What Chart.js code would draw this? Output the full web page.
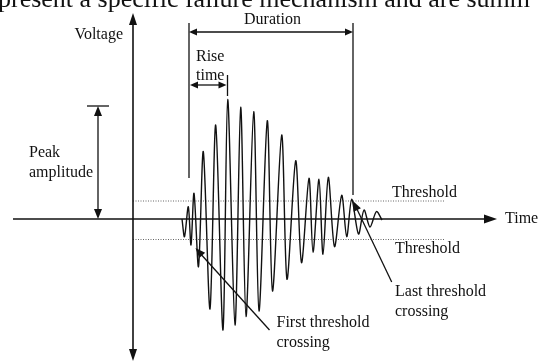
<!DOCTYPE html>
<html lang="en">
<head>
<meta charset="UTF-8">
<title>Acoustic emission hit parameters</title>
<script src="https://cdn.jsdelivr.net/npm/chart.js"></script>
<style>
  body { margin: 0; background: #fff; }
  #wrap { width: 539px; height: 363px; }
</style>
</head>
<body>
<div id="wrap"><canvas id="aeChart" width="539" height="363"></canvas></div>
<script>
// burst waveform, one point per extreme (time, voltage)
const waveTime = [49, 51.5, 55.3, 58, 61, 65.5, 70.3, 77, 82.7, 90, 94.7, 102, 107.7, 113, 120.7, 126,
  134.3, 139.5, 148.7, 154, 162.7, 168.5, 176, 180, 186, 190, 195.3, 201.5, 208.7, 213.7, 218.7,
  225.5, 231, 237, 243.5, 249];
const waveVolt = [0, -17.7, 12.3, -26, 25.7, -47.7, 67.3, -90, 94, -111, 119.5, -106, 111.7, -97.5, 107.3, -92,
  98.3, -72, 84, -60.3, 58.3, -43.7, 40.7, -33.3, 39.7, -35.3, 41.7, -27.7, 23.7, -17.7, 19.7,
  -15, 9, -8, 7.5, -1];

// hit parameters
const thresholdHigh = 18;
const thresholdLow = -20.5;
const peakAmplitude = 113;
const firstCrossing = 56;
const peakTime = 94.5;
const lastCrossing = 220;

const INK = '#111';
const SERIF = '16px "Liberation Serif", "Times New Roman", serif';

function arrowHead(ctx, x1, y1, x2, y2, len, half) {
  // filled triangle with its tip at (x2, y2)
  const a = Math.atan2(y2 - y1, x2 - x1);
  ctx.beginPath();
  ctx.moveTo(x2, y2);
  ctx.lineTo(x2 - len * Math.cos(a) + half * Math.sin(a), y2 - len * Math.sin(a) - half * Math.cos(a));
  ctx.lineTo(x2 - len * Math.cos(a) - half * Math.sin(a), y2 - len * Math.sin(a) + half * Math.cos(a));
  ctx.closePath();
  ctx.fill();
}

function line(ctx, x1, y1, x2, y2) {
  ctx.beginPath();
  ctx.moveTo(x1, y1);
  ctx.lineTo(x2, y2);
  ctx.stroke();
}

function text(ctx, str, x, y, align) {
  ctx.textAlign = align || 'left';
  ctx.fillText(str, x, y);
}

const sketch = {
  id: 'sketch',
  beforeDatasetsDraw(chart) {
    const ctx = chart.ctx;
    const X = v => chart.scales.x.getPixelForValue(v);
    const Y = v => chart.scales.y.getPixelForValue(v);
    ctx.save();
    ctx.strokeStyle = INK;
    ctx.fillStyle = INK;

    // threshold levels
    ctx.save();
    ctx.strokeStyle = '#666';
    ctx.lineWidth = 1;
    ctx.setLineDash([1, 1.5]);
    line(ctx, X(0), Y(thresholdHigh), X(312.5), Y(thresholdHigh));
    line(ctx, X(0), Y(thresholdLow), X(312.5), Y(thresholdLow));
    ctx.restore();

    // axes
    ctx.lineWidth = 1.6;
    line(ctx, X(-120), Y(0), X(355), Y(0));
    arrowHead(ctx, X(300), Y(0), X(364), Y(0), 13, 4.5);
    line(ctx, X(0), Y(196), X(0), Y(-132));
    arrowHead(ctx, X(0), Y(0), X(0), Y(206), 12, 4);
    arrowHead(ctx, X(0), Y(0), X(0), Y(-142), 12, 4);
    ctx.restore();
  },
  afterDatasetsDraw(chart) {
    const ctx = chart.ctx;
    const X = v => chart.scales.x.getPixelForValue(v);
    const Y = v => chart.scales.y.getPixelForValue(v);
    ctx.save();
    ctx.strokeStyle = INK;
    ctx.fillStyle = INK;
    ctx.lineWidth = 1.3;

    // duration bracket
    line(ctx, X(firstCrossing), Y(196), X(firstCrossing), Y(41));
    line(ctx, X(lastCrossing), Y(196), X(lastCrossing), Y(24));
    line(ctx, X(firstCrossing + 4), Y(187), X(lastCrossing - 4), Y(187));
    arrowHead(ctx, X(lastCrossing - 20), Y(187), X(firstCrossing), Y(187), 8, 3.5);
    arrowHead(ctx, X(firstCrossing + 20), Y(187), X(lastCrossing), Y(187), 8, 3.5);

    // rise time
    line(ctx, X(peakTime), Y(144), X(peakTime), Y(123));
    line(ctx, X(firstCrossing + 4), Y(134), X(peakTime - 4), Y(134));
    arrowHead(ctx, X(peakTime), Y(134), X(firstCrossing + 1), Y(134), 8, 3.5);
    arrowHead(ctx, X(firstCrossing), Y(134), X(peakTime - 1), Y(134), 8, 3.5);

    // peak amplitude
    line(ctx, X(-46), Y(peakAmplitude), X(-24), Y(peakAmplitude));
    line(ctx, X(-35), Y(peakAmplitude - 8), X(-35), Y(8));
    arrowHead(ctx, X(-35), Y(0), X(-35), Y(peakAmplitude), 10, 4);
    arrowHead(ctx, X(-35), Y(peakAmplitude), X(-35), Y(0), 10, 4);

    // threshold crossing callouts
    line(ctx, X(136.5), Y(-111), X(65), Y(-32));
    arrowHead(ctx, X(136.5), Y(-111), X(62.5), Y(-29), 10, 4);
    line(ctx, X(258.7), Y(-63), X(221.5), Y(15));
    arrowHead(ctx, X(258.7), Y(-63), X(220), Y(18), 10, 4);

    // labels
    ctx.font = SERIF;
    ctx.textBaseline = 'middle';
    text(ctx, 'Voltage', X(-10), Y(184), 'right');
    text(ctx, 'Time', X(372), Y(0));
    text(ctx, 'Duration', X(139.5), Y(199), 'center');
    text(ctx, 'Rise', X(63), Y(162));
    text(ctx, 'time', X(63), Y(143));
    text(ctx, 'Peak', X(-104), Y(66));
    text(ctx, 'amplitude', X(-104), Y(46));
    text(ctx, 'Threshold', X(259), Y(26));
    text(ctx, 'Threshold', X(262), Y(-30));
    text(ctx, 'First threshold', X(143.5), Y(-104));
    text(ctx, 'crossing', X(143.5), Y(-124));
    text(ctx, 'Last threshold', X(262), Y(-73));
    text(ctx, 'crossing', X(262), Y(-93));

    // running text of the page above the figure
    ctx.font = '26px "Liberation Serif", "Times New Roman", serif';
    ctx.textBaseline = 'alphabetic';
    text(ctx, 'present a specific failure mechanism and are summ', X(-135), Y(212));
    ctx.restore();
  }
};

const ctx = document.getElementById('aeChart').getContext('2d');
new Chart(ctx, {
  type: 'scatter',
  data: {
    datasets: [{
      label: 'Voltage',
      data: waveTime.map((t, i) => ({ x: t, y: waveVolt[i] })),
      showLine: true,
      tension: 0.3,
      borderColor: INK,
      borderWidth: 1.4,
      pointRadius: 0
    }]
  },
  options: {
    responsive: false,
    animation: false,
    events: [],
    layout: { padding: 0 },
    plugins: { legend: { display: false }, tooltip: { enabled: false } },
    scales: {
      x: { type: 'linear', min: -133, max: 406, display: false },
      y: { type: 'linear', min: -144, max: 219, display: false }
    }
  },
  plugins: [sketch]
});
</script>
</body>
</html>
